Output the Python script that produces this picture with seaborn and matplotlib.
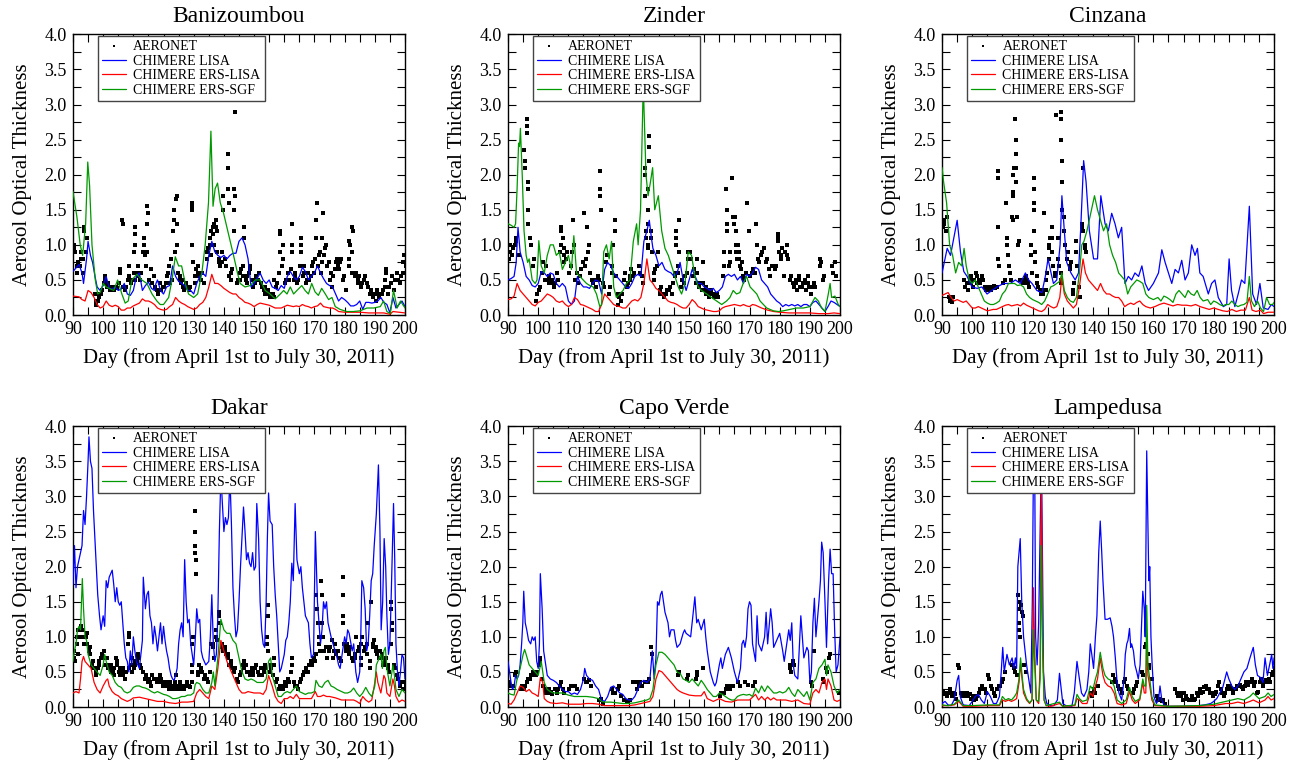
import numpy as np
import matplotlib
matplotlib.use("Agg")
import matplotlib.pyplot as plt
from matplotlib.ticker import MultipleLocator, FormatStrFormatter
import seaborn as sns

sns.set_style("ticks")
plt.rcParams['font.family'] = ['Liberation Serif', 'DejaVu Serif']
plt.rcParams.update({'text.color': 'black', 'axes.labelcolor': 'black',
                     'xtick.color': 'black', 'ytick.color': 'black'})

STATIONS = ["Banizoumbou", "Zinder", "Cinzana", "Dakar", "Capo Verde", "Lampedusa"]
SERIES = ["CHIMERE LISA", "CHIMERE ERS-LISA", "CHIMERE ERS-SGF"]
COLORS = ["#0000ff", "#ff0000", "#009900"]
XLABEL = "Day (from April 1st to July 30, 2011)"
YLABEL = "Aerosol Optical Thickness"

# ---------------- Banizoumbou ----------------
bani_lisa = [(90,0.62),(92,0.72),(93,0.6),(93.5,0.45),(94.5,0.8),(95,1.05),(95.8,0.85),(96.5,0.75),(97.3,0.55),(98,0.4),
    (99,0.35),(100,0.42),(101,0.55),(102,0.38),(103,0.37),(104,0.4),(105,0.35),(106,0.37),(107,0.45),(108,0.3),(109,0.28),
    (110,0.35),(111,0.55),(112,0.6),(113,0.35),(114,0.42),(115,0.47),(116,0.38),(117,0.35),(117.5,0.45),(118,0.5),(119,0.35),
    (120,0.3),(121,0.4),(122,0.42),(123,0.7),(124,0.55),(125,0.48),(126,0.45),(127,0.42),(128,0.35),(129,0.35),(130,0.3),
    (131,0.45),(132,0.55),(133,0.6),(134,0.55),(135,0.85),(136,1.05),(137,0.9),(138,0.85),(139,0.82),(140,0.85),(141,0.8),
    (142,0.85),(143,0.88),(144,0.88),(145,1.05),(146,1.1),(147,1.0),(148,0.8),(149,0.4),(150,0.45),(151,0.52),(152,0.6),
    (153,0.5),(154,0.45),(155,0.5),(156,0.4),(157,0.38),(158,0.35),(159,0.42),(160,0.38),(161,0.55),(162,0.62),(163,0.55),
    (164,0.5),(165,0.55),(166,0.68),(167,0.62),(168,0.5),(169,0.55),(170,0.6),(171,0.7),(172,0.6),(173,0.52),(174,0.45),
    (175,0.42),(176,0.4),(177,0.3),(178,0.2),(179,0.25),(180,0.22),(181,0.18),(182,0.13),(183,0.13),(184,0.15),(185,0.2),
    (186,0.08),(187,0.18),(188,0.18),(189,0.17),(190,0.18),(191,0.2),(192,0.25),(193,0.18),(194,0.15),(195,0.03),(196,0.25),
    (197,0.1),(198,0.15),(199,0.2),(200,0.12)]
bani_ers_lisa = [(90,0.27),(92,0.26),(93,0.22),(94,0.2),(95,0.35),(96,0.32),(97,0.25),(98,0.15),(99,0.1),(100,0.12),(101,0.2),
    (102,0.14),(103,0.12),(104,0.14),(105,0.12),(106,0.07),(107,0.07),(108,0.1),(109,0.1),(110,0.13),(111,0.15),(112,0.17),
    (113,0.23),(114,0.2),(115,0.2),(116,0.18),(117,0.15),(118,0.1),(119,0.08),(120,0.07),(121,0.08),(122,0.12),(123,0.15),
    (124,0.25),(125,0.2),(126,0.17),(127,0.15),(128,0.12),(129,0.1),(130,0.08),(131,0.1),(132,0.15),(133,0.18),(134,0.25),
    (135,0.4),(136,0.58),(137,0.45),(138,0.45),(139,0.42),(140,0.38),(141,0.35),(142,0.32),(143,0.3),(144,0.3),(145,0.25),
    (146,0.22),(147,0.18),(148,0.17),(149,0.15),(150,0.12),(151,0.15),(152,0.17),(153,0.16),(154,0.15),(155,0.14),(156,0.12),
    (157,0.1),(158,0.1),(159,0.1),(160,0.12),(161,0.14),(162,0.13),(163,0.12),(164,0.13),(165,0.12),(166,0.15),(167,0.13),
    (168,0.12),(169,0.1),(170,0.12),(171,0.13),(172,0.17),(173,0.12),(174,0.11),(175,0.1),(176,0.1),(177,0.08),(178,0.05),
    (180,0.04),(182,0.04),(185,0.04),(188,0.03),(190,0.03),(193,0.03),(195,0.01),(196,0.05),(198,0.04),(200,0.03)]
bani_ers_sgf = [(90,1.76),(91.3,1.4),(92.4,1.0),(93.2,0.85),(94.2,1.3),(94.9,2.18),(95.5,1.85),(96.3,1.0),(97.4,0.5),(98.2,0.3),
    (99,0.32),(100,0.45),(101,0.4),(102,0.38),(103.5,0.35),(104.8,0.5),(106.2,0.3),(107.3,0.17),(108.3,0.2),(109.5,0.5),
    (111.2,0.58),(112.8,0.5),(114.5,0.45),(116.2,0.3),(117.8,0.2),(118.9,0.15),(120,0.15),(121.7,0.25),(122.8,0.5),(123.9,0.83),
    (125,0.7),(126,0.7),(127.2,0.45),(128.3,0.3),(130,0.25),(131.3,0.3),(132.7,0.6),(133.8,1.0),(134.9,1.6),(135.7,2.62),
    (136.4,1.55),(137.1,1.8),(137.9,1.88),(138.8,1.6),(139.9,1.45),(141,1.25),(142.1,1.05),(143.2,0.85),(144.5,0.6),(145.4,0.45),
    (147,0.4),(148.7,0.42),(150.4,0.5),(152,0.5),(153.7,0.35),(155.3,0.3),(157,0.23),(158.7,0.3),(159.8,0.35),(160.9,0.3),
    (162,0.4),(163.1,0.3),(164.2,0.35),(165.8,0.42),(166.9,0.35),(168,0.3),(169.1,0.45),(170.2,0.33),(171.3,0.28),(172.4,0.38),
    (173.6,0.3),(174.7,0.22),(175.8,0.25),(176.9,0.12),(178.5,0.08),(180.7,0.05),(182.9,0.05),(185.1,0.06),(187.4,0.1),
    (189.6,0.1),(191.8,0.12),(192.9,0.2),(194,0.05),(195.1,0.02),(196.2,0.35),(197.4,0.1),(198.5,0.2),(200,0.1)]
bani_aeronet = {90:[1.0,0.95,0.9],91:[0.6,0.7,0.75],92:[0.7,0.8,0.9],93:[0.6,0.8,1.2,1.25],94:[0.9,1.1],97:[0.3,0.2,0.15],
    98:[0.2,0.25,0.3],99:[0.3,0.35],100:[0.45,0.5,0.55],101:[0.4,0.45],102:[0.35,0.4],103:[0.4,0.35],104:[0.4,0.38],
    105:[0.45,0.6,0.65],106:[1.35,1.3,0.4],107:[0.35,0.4],108:[0.5,0.7,0.55],109:[0.45,0.5],110:[0.6,0.9,1.0,1.25,1.15,0.5],
    111:[0.6,0.7,0.55],112:[0.5,0.6],113:[0.9,1.1,1.0,0.85],114:[0.7,0.9,1.3,1.55,1.45],115:[0.5,0.65],116:[0.45,0.55],
    117:[0.4,0.35],118:[0.3,0.45],119:[0.35,0.4],120:[0.4,0.45],121:[0.55,0.6,0.7],122:[0.45,0.8,0.5],123:[1.2,1.35,1.5,0.9],
    124:[1.65,1.7,1.3,1.0,0.6],125:[0.5,0.55,0.45],126:[0.4,0.5,0.35],127:[0.45,0.4],128:[0.35,0.4],129:[1.0,1.5,1.6,1.55,0.75],
    130:[0.45,0.55,0.65],131:[0.6,0.7,0.55],132:[0.5,0.6],133:[0.45],134:[0.8,0.9,0.95],135:[1.0,1.1,1.2,0.85],
    136:[1.15,1.25,1.3,1.0],137:[1.35,1.25,1.2,0.9],138:[0.8,0.75,0.7],139:[0.75,0.9,1.5,1.7],140:[0.8,0.7],
    141:[2.1,2.3,1.8,1.6,0.55],142:[0.6,0.5,0.65],143:[1.2,1.5,1.8,2.9,1.7],144:[0.45,0.5],145:[0.5,0.6,0.65],
    146:[0.55,0.7,1.1,1.25],147:[0.5,0.45,0.55],148:[0.6,0.65,0.7],149:[0.5,0.4],150:[0.45,0.5,0.55],151:[0.5,0.6],
    152:[0.45,0.4],153:[0.35,0.4,0.3],154:[0.3,0.35],155:[0.25,0.3],156:[0.3,0.25,0.5],157:[0.4,0.45],158:[0.6,0.9,1.2,1.15],
    159:[0.7,0.8,1.0],160:[0.45,0.5],161:[0.6,0.5],162:[0.65,0.9,1.3,1.0],163:[0.5,0.6,0.55],164:[0.45,0.5],
    165:[0.7,0.9,1.1,1.0],166:[0.55,0.6,0.7],167:[0.45,0.5,0.6],168:[0.5,0.55],169:[0.7,0.75,0.6],170:[0.8,1.1,1.35,1.6],
    171:[0.7,0.85,0.9],172:[0.6,0.75,1.1,1.45],173:[0.85,0.95,1.0],174:[0.7,0.75],175:[0.5,0.6,0.4],176:[0.55,0.65],
    177:[0.75,0.8,0.7],178:[0.65,0.75,0.8],179:[0.5,0.55],180:[0.35],181:[0.7,0.8,1.05,1.0],182:[0.6,0.9,1.25,1.2],
    183:[0.55,0.6],184:[0.45,0.5,0.55],185:[0.4,0.45],186:[0.5,0.55],187:[0.45,0.4],188:[0.3,0.35],189:[0.25,0.3],
    190:[0.2,0.3,0.35],191:[0.25,0.3],192:[0.3,0.35],193:[0.4,0.5,0.6,0.65],194:[0.3,0.4],195:[0.45,0.55],196:[0.35,0.5],
    197:[0.6,0.5],198:[0.45,0.55],199:[0.6,0.75,0.85],200:[0.7,0.8]}

# ---------------- Zinder ----------------
zind_lisa = [(90,0.5),(91,0.52),(92,0.55),(92.7,0.75),(93.3,1.25),(94,0.9),(95,0.75),(96,0.55),(97,0.5),(98,0.42),(99,0.4),
    (100,0.45),(101,0.62),(102,0.6),(103,0.55),(104,0.6),(105,0.58),(106,0.45),(107,0.4),(108,0.45),(109,0.4),(110,0.2),
    (111,0.15),(112,0.2),(113,0.55),(114,0.45),(115,0.4),(116,0.4),(117,0.38),(118,0.45),(119,0.5),(120,0.48),(121,0.3),
    (122,0.65),(123,0.75),(124,0.7),(125,0.6),(126,0.55),(127,0.5),(128,0.45),(129,0.4),(130,0.38),(131,0.45),(132,0.55),
    (133,0.58),(134,0.55),(135,1.05),(136,1.2),(136.8,1.35),(137.5,1.1),(138,0.95),(139,0.85),(140,0.7),(141,0.75),(142,0.65),
    (143,0.62),(144,0.6),(145,0.55),(146,0.6),(147,0.75),(148,0.5),(149,0.35),(150,0.5),(151,0.65),(152,0.55),(153,0.45),
    (154,0.45),(155,0.4),(156,0.38),(157,0.35),(158,0.38),(159,0.32),(160,0.35),(161,0.4),(162,0.55),(163,0.58),(164,0.55),
    (165,0.58),(166,0.5),(167,0.55),(168,0.45),(169,0.58),(170,0.55),(171,0.6),(172,0.68),(173,0.65),(174,0.5),(175,0.45),
    (176,0.4),(177,0.3),(178,0.25),(179,0.2),(180,0.17),(181,0.12),(182,0.15),(183,0.13),(184,0.15),(185,0.13),(186,0.15),
    (187,0.12),(188,0.15),(189,0.15),(190,0.12),(191,0.18),(192,0.2),(193,0.15),(194,0.1),(195,0.05),(196,0.12),(197,0.2),
    (198,0.18),(199,0.15),(200,0.12)]
zind_ers_lisa = [(90,0.22),(91,0.23),(92,0.27),(93,0.45),(94,0.35),(95,0.3),(96,0.25),(97,0.2),(98,0.15),(99,0.13),(100,0.18),
    (101,0.2),(102,0.25),(103,0.3),(104,0.28),(105,0.25),(106,0.2),(107,0.18),(108,0.2),(109,0.15),(110,0.12),(111,0.15),
    (112,0.25),(113,0.22),(114,0.15),(115,0.14),(116,0.12),(117,0.1),(118,0.08),(119,0.05),(120,0.05),(121,0.15),(122,0.3),
    (123,0.25),(124,0.2),(125,0.15),(126,0.13),(127,0.12),(128,0.1),(129,0.1),(130,0.15),(131,0.2),(132,0.22),(133,0.2),
    (134,0.25),(135,0.45),(136,0.8),(137,0.5),(138,0.45),(139,0.38),(140,0.35),(141,0.3),(142,0.25),(143,0.2),(144,0.18),
    (145,0.17),(146,0.15),(147,0.12),(148,0.1),(149,0.1),(150,0.15),(151,0.22),(152,0.18),(153,0.12),(154,0.1),(155,0.08),
    (156,0.07),(157,0.06),(158,0.05),(159,0.05),(160,0.06),(161,0.1),(162,0.12),(163,0.13),(164,0.14),(165,0.15),(166,0.14),
    (167,0.13),(168,0.15),(169,0.13),(170,0.12),(171,0.15),(172,0.14),(173,0.12),(174,0.1),(176,0.07),(178,0.05),(180,0.04),
    (183,0.03),(186,0.03),(190,0.03),(193,0.02),(196,0.02),(198,0.03),(200,0.02)]
zind_ers_sgf = [(90,1.3),(91,1.28),(92,1.25),(92.5,1.3),(93,1.8),(93.5,2.45),(93.8,2.4),(94.1,2.66),(94.7,2.0),(95.3,1.2),
    (96,0.85),(96.5,0.75),(97,0.8),(97.5,0.65),(98,0.5),(99,0.45),(99.6,0.5),(100.2,1.06),(101,0.7),(102,0.6),(103,0.85),
    (104,1.0),(105,1.0),(106,0.85),(107,0.9),(108,0.65),(109,0.75),(110,0.85),(111,0.65),(111.8,1.13),(112.7,0.6),(113.8,0.55),
    (114.9,0.5),(116,0.45),(117.1,0.42),(118.2,0.4),(119.3,0.3),(120.4,0.12),(121,0.15),(121.7,0.9),(122.6,1.0),(123.5,0.8),
    (124.3,1.05),(125,0.4),(125.9,0.25),(127,0.3),(128.1,0.35),(129.2,0.45),(130.4,0.5),(131.5,1.05),(132.6,1.3),(133.1,1.0),
    (133.9,1.5),(134.8,3.3),(135.7,2.0),(136.4,1.7),(137.2,1.9),(137.9,2.1),(138.6,1.5),(139.8,1.7),(140.9,1.2),(142,0.95),
    (143.1,0.85),(144.2,0.7),(145.3,0.55),(146.4,0.4),(147.5,0.3),(148.6,0.45),(149.7,0.9),(150.8,0.85),(151.9,0.55),
    (153,0.4),(154.1,0.35),(155.8,0.3),(157.4,0.25),(159.1,0.2),(160.8,0.15),(162.4,0.2),(163.5,0.25),(164.6,0.35),
    (165.7,0.3),(166.8,0.32),(167.9,0.45),(169,0.55),(170.2,0.4),(171.3,0.35),(172.4,0.3),(173.5,0.2),(174.6,0.15),
    (175.7,0.1),(176.8,0.08),(177.9,0.06),(179.6,0.05),(181.2,0.06),(183.4,0.08),(185.6,0.1),(187.8,0.1),(190,0.12),
    (191.7,0.25),(192.8,0.2),(193.9,0.1),(195,0.05),(196.1,0.3),(196.7,0.45),(197.2,0.25),(198.3,0.27),(199.4,0.15),(200,0.12)]
zind_aeronet = {90:[0.8,0.9,1.0],91:[0.85,0.95],92:[1.0,1.1,1.05],93:[0.85],95:[2.35,2.2,2.1],96:[2.8,2.7,2.6,1.9,1.8,1.5,1.3],
    97:[1.1,1.0],98:[0.7,0.8],99:[0.2,0.3],100:[0.35,0.4],101:[0.6,0.75],102:[0.5,0.7],103:[0.5,0.55,0.45],104:[0.45,0.5],
    105:[0.4,0.45],106:[0.6,0.5],107:[0.9,1.0,1.2,1.25],108:[1.1,0.95,0.85,0.75],109:[0.8,0.9],110:[0.6,0.7],
    111:[0.9,1.35,1.0],112:[0.5,0.6],113:[0.45,0.55],114:[0.65,0.75],115:[1.45,0.7,0.8],116:[1.25,0.9,1.0],117:[0.6,0.5],
    118:[0.45,0.5],119:[0.4,0.55],120:[0.5,2.05,1.8,1.7,1.5],121:[0.45,0.4],122:[0.75,0.85],123:[0.3,0.4],
    124:[0.6,0.7,1.0],125:[1.35,1.2,0.55],126:[0.3,0.15,0.25],127:[0.2,0.3],128:[0.5,0.6],129:[0.4,0.45],130:[0.5,0.55,0.65],
    131:[0.55,0.6],133:[0.7,0.6],134:[0.55,0.45],135:[2.1,2.0,1.7,1.2,1.1],136:[1.8,1.5,1.3,1.0,0.95,2.55,2.4,2.2],
    137:[1.2,1.1,0.9],138:[0.6,0.5,0.65],139:[0.7,0.9],140:[0.35,0.3,0.4],141:[0.3,0.25],142:[0.3,0.35],143:[0.35,0.4],
    144:[0.3,0.45],145:[0.55,0.6,1.0,1.1,1.2],146:[0.6,0.7,1.35,0.9],147:[0.4,0.5],148:[0.45,0.55],149:[0.6,0.9,0.8],
    150:[0.9,0.8],151:[0.55,0.65],152:[0.45,0.6,0.8],153:[0.4,0.45],154:[0.35,0.45,0.75],155:[0.35,0.4,0.3],
    156:[0.3,0.25,0.35],157:[0.35,0.3],158:[0.25,0.3],159:[0.3,0.25],161:[0.55,0.7,0.9],162:[1.8,1.5,1.3,1.2],
    163:[0.7,0.75,0.9],164:[1.95,1.4,1.3],165:[1.4,1.2,1.0,0.9,0.8],166:[1.0,0.9,0.8,0.7],167:[0.65,0.75,0.55],
    168:[0.5,0.6],169:[1.6,1.2],170:[0.55,0.6],171:[0.65,0.6],172:[1.3,1.0,0.8],173:[0.75,0.85],174:[0.9,0.95],
    175:[0.75,0.8],176:[0.65,0.55],177:[0.7],178:[0.65,0.7],179:[1.1,1.05,1.15,0.9],180:[0.85,0.8,0.95],181:[0.55,0.9],
    182:[1.0,0.85,0.8],183:[0.5,0.55],184:[0.45,0.4],185:[0.5,0.45,0.35],186:[0.55,0.5,0.4],187:[0.4,0.45],
    188:[0.5,0.45,0.35],189:[0.55,0.45,0.4],190:[0.3,0.4],191:[0.45,0.4],193:[0.8,0.7,0.75],194:[0.5,0.55],
    197:[0.7,0.6],198:[0.75,0.55]}

# ---------------- Cinzana ----------------
cinz_lisa = [(90,0.6),(91.7,0.95),(92.8,0.85),(95,1.35),(96.1,0.9),(97.2,0.62),(98.3,0.55),(99.9,0.4),(101.6,0.38),(103.2,0.4),
    (104.9,0.3),(106.5,0.35),(108.2,0.4),(110.4,0.45),(112.6,0.45),(114.3,0.5),(115.9,0.45),(117.6,0.6),(118.7,0.5),
    (119.8,0.45),(121.4,0.35),(123.1,0.32),(124.2,0.55),(125.1,0.8),(126.1,0.6),(126.9,0.45),(128,0.5),(129.1,1.0),
    (129.7,1.7),(130.5,1.2),(131.3,0.75),(132.7,0.6),(134.1,0.5),(135.2,0.6),(136,1.3),(136.9,2.2),(137.7,1.9),(138.8,1.2),
    (140.2,0.8),(141.5,0.8),(142.6,1.7),(144,1.3),(145.1,1.2),(146.2,1.45),(147.3,1.3),(148.4,1.1),(149.5,1.25),(150.6,0.45),
    (151.7,0.55),(152.8,0.5),(153.9,0.6),(155.1,0.55),(156.2,0.7),(157.3,0.45),(158.4,0.35),(160,0.45),(161.7,0.6),
    (162.8,0.93),(163.9,0.75),(165,0.6),(166.1,0.45),(167.2,0.65),(168.3,0.6),(169.4,0.78),(170.5,0.5),(171.6,0.6),
    (172.7,1.0),(173.8,0.85),(174.6,0.95),(175.4,0.6),(176.5,0.55),(178.2,0.3),(179.3,0.45),(180.4,0.5),(181.5,0.25),
    (183.2,0.12),(184.3,0.15),(185.1,0.8),(185.9,0.35),(187,0.12),(188.1,0.3),(189.2,0.5),(190.3,0.45),(191.8,1.55),
    (192.9,0.3),(194.2,0.15),(195.3,0.45),(196.4,0.1),(198,0.08),(199.1,0.15),(200,0.12)]
cinz_ers_lisa = [(90,0.28),(91,0.3),(92,0.32),(93,0.25),(94,0.2),(95,0.22),(96,0.2),(97,0.18),(98,0.2),(99,0.15),(100,0.1),
    (101,0.1),(102,0.12),(103,0.1),(104,0.08),(105,0.06),(106,0.07),(107,0.08),(108,0.08),(109,0.1),(110,0.12),(111,0.14),
    (112,0.15),(113,0.13),(114,0.14),(115,0.15),(116,0.13),(117,0.17),(118,0.14),(119,0.12),(120,0.1),(121,0.08),(122,0.06),
    (123,0.05),(124,0.08),(125,0.15),(126,0.12),(127,0.1),(128,0.12),(129,0.25),(129.7,0.55),(130.5,0.3),(131.5,0.2),
    (132.5,0.15),(133.5,0.1),(134.5,0.15),(135.5,0.4),(136.7,0.8),(137.5,0.6),(138.5,0.5),(139.5,0.45),(140.5,0.4),
    (141.5,0.35),(142.5,0.45),(143.5,0.35),(144.5,0.3),(145.5,0.3),(146.5,0.27),(147.5,0.25),(148.5,0.25),(149.5,0.2),
    (150.5,0.12),(151.5,0.15),(152.5,0.17),(153.5,0.15),(154.5,0.18),(155.5,0.2),(156.5,0.15),(157.5,0.12),(159,0.1),
    (160.5,0.12),(162,0.15),(163.5,0.17),(165,0.15),(166.5,0.13),(168,0.15),(169.5,0.14),(171,0.14),(172.5,0.13),(174,0.15),
    (175.5,0.12),(177,0.1),(178.5,0.08),(180,0.1),(181.5,0.08),(183,0.06),(184.5,0.05),(186,0.08),(187.5,0.05),(189,0.07),
    (190.5,0.07),(191.8,0.25),(192.7,0.07),(194,0.05),(195.5,0.07),(196.5,0.02),(198,0.04),(200,0.04)]
cinz_ers_sgf = [(90,2.1),(90.5,1.9),(91.5,1.6),(92.5,1.0),(93.5,0.85),(94.5,0.6),(95.5,0.75),(96.5,0.7),(97.3,0.95),(98,0.7),
    (99,0.5),(100,0.45),(101,0.5),(102,0.4),(103,0.3),(104,0.2),(105,0.17),(106,0.15),(107,0.15),(108,0.17),(109,0.2),
    (110,0.3),(111,0.35),(112,0.45),(113,0.45),(114,0.45),(115,0.42),(116,0.43),(117,0.4),(118,0.3),(119,0.25),(120,0.22),
    (121,0.2),(122,0.18),(123,0.15),(124,0.2),(125,0.3),(126,0.4),(127,0.42),(128,0.45),(129,0.48),(129.7,0.6),(130.5,0.35),
    (131.5,0.25),(132.5,0.2),(133.5,0.18),(134.5,0.25),(135.5,0.6),(136.3,1.0),(137,1.05),(138,1.2),(139,1.4),(140,1.6),
    (140.5,1.7),(141.5,1.5),(142.5,1.35),(143.5,1.2),(144.5,1.3),(145.5,1.0),(146.5,0.85),(147.5,0.75),(148.5,0.6),
    (149.5,0.55),(150.5,0.5),(151.5,0.3),(152.5,0.4),(153.5,0.45),(154.5,0.5),(155.5,0.48),(156.5,0.45),(157.5,0.3),
    (158.5,0.25),(160,0.22),(161.5,0.25),(162.5,0.2),(163.5,0.27),(164.5,0.25),(165.5,0.22),(166.5,0.18),(167.5,0.3),
    (168.5,0.35),(169.5,0.3),(170.5,0.25),(171.5,0.35),(172.5,0.3),(173.5,0.28),(174.5,0.35),(175.5,0.25),(176.5,0.2),
    (178,0.22),(179,0.15),(180,0.2),(181,0.18),(182,0.15),(183,0.13),(184,0.15),(185,0.15),(186,0.2),(187,0.15),(188,0.12),
    (189,0.14),(190,0.15),(191,0.18),(191.8,0.55),(192.5,0.2),(193.5,0.12),(194.5,0.2),(195.5,0.1),(196.5,0.05),
    (197.5,0.25),(198.5,0.15),(199.5,0.15),(200,0.18)]
cinz_aeronet = {90:[1.25,1.35,1.3],91:[1.2,1.4],92:[0.25,0.2],93:[0.18,0.25],97:[0.5,0.4],98:[0.45,0.35],99:[0.5,0.45,0.55],
    100:[0.4,0.5],101:[0.6,0.55,0.45],102:[0.5,0.45],103:[0.55,0.5],104:[0.4,0.35],105:[0.35,0.4],106:[0.35,0.4],
    107:[0.42,0.38],108:[0.4,2.05,1.95,1.25,0.8,0.7],110:[0.45,0.5],111:[1.6,1.1,1.0,0.85],112:[0.7,0.6,0.5],
    113:[1.4,1.35,1.7,1.75,2.0,2.1],114:[2.8,2.5,2.3,2.1,1.9,1.4],115:[1.0,1.05,0.5],116:[0.5,0.45],117:[0.45,0.5,0.55],
    118:[0.5,0.45,0.4],119:[0.85,1.0,0.6],120:[1.95,1.8,1.6,1.5,1.2,0.9,0.75],121:[0.45,0.55,0.4],122:[0.35,0.3],
    123:[0.35,0.3,1.45],124:[0.35,0.5,0.6],125:[0.8,0.95,1.0,1.1],126:[1.25,1.1,0.9,0.7],127:[0.6,0.55,2.85],
    128:[1.1,0.8,0.7],129:[0.5,0.6,0.45,3.1,2.9,2.8,2.5,2.2,1.9,1.5],130:[1.4,1.2,1.0],131:[0.8,0.9],132:[0.7,0.65,0.75],
    133:[0.3,0.35,0.45],134:[1.05,0.9,0.7],135:[0.4,0.25],136:[1.3,1.25,1.2,2.1],137:[1.0,0.95,0.9]}

# ---------------- Dakar ----------------
dak_lisa = [(90,1.75),(90.5,2.3),(91,1.7),(91.5,2.0),(92,2.1),(93,2.3),(93.5,2.8),(94,2.6),(94.5,3.0),(95,3.5),(95.3,3.85),
    (95.8,3.5),(96.3,3.4),(96.8,2.8),(97.5,2.2),(98.2,1.6),(98.8,1.3),(99.3,1.1),(100,1.3),(100.5,1.15),(101,1.8),(101.5,1.7),
    (102,1.85),(102.5,1.9),(103,1.95),(103.5,1.75),(104,1.5),(104.5,1.7),(105,1.5),(105.5,1.45),(106,1.5),(106.5,1.2),
    (107,0.9),(107.5,0.7),(108,0.65),(108.5,0.5),(109,0.8),(109.5,0.6),(110,1.0),(110.5,0.8),(111,0.65),(112,0.55),
    (112.5,0.75),(113,0.95),(113.3,1.85),(114,1.4),(114.5,1.6),(115,1.65),(115.5,1.3),(116,1.2),(116.5,0.9),(117,1.15),
    (117.5,1.0),(118,0.8),(118.5,1.0),(119,1.2),(119.5,0.9),(120,1.15),(120.5,0.95),(121,0.8),(121.5,0.7),(122,0.55),
    (122.5,0.45),(123,0.4),(123.5,0.38),(124,0.45),(124.5,0.55),(125,0.9),(125.5,1.1),(126,1.2),(126.5,1.0),(127,2.1),
    (127.5,1.5),(128,1.2),(128.5,1.25),(129,0.9),(129.5,0.75),(130,0.6),(130.5,0.95),(131,1.4),(131.5,1.2),(132,1.25),
    (132.5,0.8),(133,0.7),(134,0.6),(135,0.65),(135.5,1.0),(136,1.6),(136.5,0.9),(137,0.65),(137.5,0.75),(138,1.3),
    (138.5,2.5),(139,3.3),(140,2.5),(140.5,2.7),(141,2.6),(141.5,2.7),(142,3.3),(142.5,2.6),(143,1.7),(143.5,1.3),(144,1.0),
    (144.5,1.1),(145,1.5),(145.5,2.0),(146.5,2.85),(147,2.5),(147.5,2.1),(148,2.2),(148.5,2.05),(149,2.0),(149.5,2.2),
    (150,1.95),(150.5,2.0),(150.9,2.9),(151.5,2.4),(152,1.5),(152.5,1.1),(153,0.9),(153.5,0.85),(154,1.5),(154.4,2.4),
    (154.8,3.05),(155.3,2.65),(156,2.6),(156.5,2.0),(157,1.6),(157.5,1.3),(158,0.9),(158.5,0.5),(159,0.55),(160,0.75),
    (160.5,0.95),(161,1.0),(161.5,1.2),(162,1.5),(162.5,2.05),(163,1.8),(163.6,2.9),(164.2,2.1),(165,1.9),(165.5,2.0),
    (166,1.7),(166.5,1.5),(167,1.3),(168,1.2),(168.5,0.9),(169,0.7),(169.7,0.75),(170.3,2.5),(171,1.5),(171.5,1.2),
    (172,0.9),(172.5,1.1),(173,1.5),(173.5,1.4),(174,1.5),(174.5,1.2),(175.5,1.0),(176.5,0.85),(177.5,0.7),(178,0.6),
    (178.5,0.55),(179.5,0.85),(180,1.0),(180.5,0.9),(181,1.1),(181.5,1.05),(182.5,0.8),(183,0.9),(183.7,0.5),(184.3,0.35),
    (185,0.5),(185.3,0.9),(185.7,1.8),(186.3,1.7),(186.8,1.4),(187.3,0.8),(187.8,0.9),(188.3,1.3),(188.8,1.8),(189.3,1.9),
    (189.8,2.3),(190.5,2.75),(191.2,3.45),(191.7,2.5),(192.1,1.1),(192.6,1.5),(193.1,2.4),(193.6,2.0),(194,1.3),
    (194.5,0.75),(195,0.9),(195.5,1.7),(196.2,2.9),(196.6,2.1),(197,0.9),(197.5,0.5),(198,0.3),(198.5,0.5),(199,0.75),
    (199.5,0.7),(200,0.4)]
dak_ers_lisa = [(90,0.2),(91,0.22),(92,0.2),(92.5,0.4),(93,0.65),(93.5,0.72),(94,0.65),(95,0.6),(96,0.55),(97,0.35),(98,0.25),
    (99,0.2),(100,0.3),(101,0.38),(101.5,0.4),(102,0.3),(103,0.22),(104,0.18),(105,0.16),(106,0.12),(107,0.1),(108,0.08),
    (109,0.1),(110,0.13),(112,0.14),(114,0.12),(116,0.1),(118,0.08),(120,0.08),(122,0.06),(124,0.05),(126,0.07),(128,0.07),
    (130,0.08),(131,0.2),(132,0.25),(133,0.2),(134,0.15),(135,0.12),(136,0.3),(137,0.25),(138,0.55),(139,0.95),(140,0.8),
    (141,0.65),(142,0.55),(143,0.45),(144,0.35),(145,0.25),(146,0.2),(147,0.2),(148,0.22),(150,0.2),(152,0.2),(153,0.18),
    (154,0.25),(154.8,0.45),(156,0.3),(157,0.15),(158,0.08),(159,0.05),(160,0.12),(161,0.12),(162,0.15),(163,0.12),
    (164,0.18),(165,0.12),(167,0.12),(169,0.12),(170.3,0.22),(171,0.15),(172,0.15),(173,0.17),(174,0.15),(175,0.15),
    (177,0.13),(179,0.1),(181,0.1),(183,0.1),(184,0.08),(185,0.05),(186,0.15),(187,0.1),(188,0.07),(189,0.1),(190,0.35),
    (190.5,0.5),(191,0.35),(192,0.2),(193,0.45),(193.5,0.4),(194,0.2),(195,0.15),(196,0.4),(196.5,0.3),(197,0.15),
    (198,0.07),(199,0.1),(200,0.08)]
dak_ers_sgf = [(90,0.65),(90.5,0.8),(91,0.9),(91.5,1.1),(92,1.15),(92.5,1.1),(93.1,1.83),(93.5,1.4),(94,1.0),(94.5,0.95),
    (95,0.75),(96,0.6),(97,0.55),(98,0.5),(99,0.45),(100,0.6),(100.5,0.75),(101,0.65),(102,0.5),(103,0.45),(104,0.35),
    (105,0.3),(106,0.28),(107,0.22),(108,0.2),(109,0.22),(110,0.28),(111,0.3),(112,0.3),(113,0.28),(114,0.27),(115,0.25),
    (116,0.22),(117,0.2),(118,0.22),(119,0.2),(120,0.18),(121,0.17),(122,0.15),(123,0.12),(124,0.12),(125,0.13),(126,0.15),
    (127,0.15),(128,0.17),(129,0.17),(130,0.2),(130.5,0.32),(131,0.35),(132,0.33),(133,0.25),(134,0.2),(135,0.2),(136,0.35),
    (136.5,0.5),(137,0.3),(138,0.7),(139,1.25),(140,1.1),(141,1.05),(142,1.05),(143,0.95),(144,0.9),(145,0.7),(146,0.5),
    (147,0.4),(148,0.38),(149,0.4),(150,0.38),(151,0.35),(152,0.35),(153,0.35),(154,0.4),(154.8,0.65),(155.5,0.7),
    (156,0.45),(157,0.3),(158,0.15),(159,0.15),(160,0.2),(161,0.22),(162,0.2),(163,0.25),(164,0.3),(165,0.22),(166,0.2),
    (167,0.18),(168,0.2),(169,0.2),(170,0.22),(170.5,0.38),(171.5,0.3),(172.5,0.28),(173.5,0.35),(174.5,0.38),(175.5,0.3),
    (176.5,0.28),(177.5,0.25),(179,0.22),(180,0.2),(181,0.2),(182,0.22),(183,0.27),(184,0.2),(185,0.15),(186,0.2),
    (187,0.28),(188,0.2),(189,0.15),(190,0.3),(190.5,0.6),(191,0.65),(192,0.75),(192.5,0.55),(193,0.8),(193.5,0.85),
    (194,0.55),(195,0.3),(196,0.6),(196.5,0.45),(197,0.25),(198,0.15),(199,0.25),(200,0.2)]
dak_aeronet = {90:[0.7,0.8,0.65],91:[0.9,1.0,1.1,0.75],92:[1.0,1.1,1.15],93:[1.1,1.0,0.9],94:[1.0,0.9,1.05],95:[0.8,0.75,0.85],
    96:[0.6,0.65,0.55],97:[0.55,0.5,0.45],98:[0.55,0.6,0.65],99:[0.7,0.75],100:[0.8,0.7,0.6],101:[0.7,0.6,0.55],
    102:[0.55,0.5,0.6],103:[0.5,0.45,0.55],104:[0.7,0.6,0.65],105:[0.5,0.45,0.55],106:[0.5,0.55,0.45],107:[0.4,0.5],
    108:[0.9,1.0,1.05,0.55],109:[0.6,0.5,0.7],110:[0.55,0.6,0.65],111:[0.65,0.75,0.7],112:[0.6,0.55],113:[0.5,0.4],
    114:[0.45,0.35],115:[0.4,0.35,0.3],116:[0.45,0.4],117:[0.4,0.35],118:[0.35,0.4,0.45],119:[0.4,0.35,0.3],120:[0.3,0.35],
    121:[0.3,0.25],122:[0.35,0.3,0.25],123:[0.3,0.25,0.35],124:[0.45,0.3,0.25],125:[0.3,0.35,0.25],126:[0.3,0.25],
    127:[0.3,0.35],128:[0.3,0.28],129:[0.35,0.5,0.6,0.9,1.0],130:[2.8,2.5,2.3,2.2,2.1,1.9],131:[0.5,0.45,0.6],
    132:[0.55,0.5],133:[0.4,0.45],134:[0.4,0.35],135:[0.5,0.9],136:[0.9,0.85,0.7],137:[1.0,1.1,0.95],138:[1.35,1.3,1.2],
    139:[0.9,0.85,0.8],140:[0.85,0.8,0.75],141:[0.7,0.75,0.6],142:[0.65,0.6,0.55],143:[0.5,0.55],144:[0.4,0.35],
    145:[0.45,0.5],146:[0.6,0.55,0.65],147:[0.6,0.5],148:[0.5,0.45],149:[0.55,0.5,0.45],150:[0.55,0.6],151:[0.5,0.45],
    152:[0.55,0.45],153:[0.5,0.55,0.6],154:[0.9,1.0,1.3,1.45,0.8],155:[0.5,0.6,0.55],156:[0.45,0.7,0.6],157:[0.35,0.4],
    158:[0.25,0.3],159:[0.3,0.25],160:[0.35,0.3],161:[0.4,0.35],162:[0.5,0.6,0.7],163:[0.35,0.3],164:[0.3,0.25],
    165:[0.35,0.4],166:[0.45,0.5],167:[0.55,0.5],168:[0.6,0.65],169:[0.6,0.7],170:[0.65,0.75,1.6,1.4],171:[1.2,1.0,0.9,0.8],
    172:[1.8,1.6,1.2,1.0],173:[0.8,0.85],174:[0.7,0.8],175:[0.85,0.95],176:[0.7,0.8,0.9],177:[0.75,0.8],178:[0.7,0.65],
    179:[1.85,1.6,1.3,1.2,0.9],180:[0.8,0.85,0.9],181:[0.75,0.8,0.85],182:[0.7,0.65],183:[0.7,0.75,1.0],184:[0.8,0.85],
    185:[0.6,0.7,0.9,1.0],186:[0.8,0.85],187:[0.75,0.9,1.2],188:[0.55,0.65,1.5],189:[0.85,0.9,0.95],190:[0.85,0.8,0.75],
    191:[0.7,0.8],192:[0.75,0.7,0.6],193:[0.6,0.65,0.7],194:[0.55,0.6,0.5],195:[0.9,1.5,1.4,1.2,1.1],196:[0.6,0.55],
    197:[0.45,0.4],198:[0.3,0.35],199:[0.25,0.35],200:[0.3,0.4]}

# ---------------- Capo Verde ----------------
capo_lisa = [(90,0.65),(90.5,0.5),(91,0.35),(91.5,0.25),(92,0.3),(92.5,0.45),(93,0.4),(93.5,0.45),(94,0.6),(94.5,0.9),
    (94.9,1.2),(95.2,1.65),(95.7,1.2),(96.2,1.1),(96.8,0.95),(97.5,0.9),(98,1.0),(98.5,0.95),(99,1.0),(99.5,0.65),
    (100,0.55),(100.4,0.9),(100.7,1.9),(101.3,1.4),(101.8,0.8),(102.3,0.65),(103,0.45),(104,0.4),(105,0.38),(106,0.35),
    (107,0.3),(108,0.25),(109,0.22),(110,0.22),(111,0.18),(112,0.2),(113,0.18),(114,0.25),(115,0.4),(115.4,0.55),
    (116,0.45),(117,0.4),(118,0.38),(119,0.3),(120,0.25),(121,0.1),(122,0.08),(123,0.15),(124,0.28),(125,0.3),(126,0.25),
    (127,0.2),(128,0.18),(129,0.12),(130,0.1),(131,0.1),(132,0.15),(133,0.25),(134,0.35),(135,0.38),(136,0.35),(137,0.4),
    (137.8,0.8),(138.4,0.4),(139,0.7),(139.5,1.5),(140,1.45),(140.5,1.6),(141,1.65),(141.5,1.5),(142,1.35),(143,1.2),
    (143.5,1.0),(144,1.1),(145,1.1),(145.5,0.95),(146,0.85),(147,0.9),(148,1.05),(148.5,1.1),(149,1.05),(150.5,1.0),
    (151.9,1.57),(152.5,1.2),(153,1.25),(154,1.1),(155,1.25),(155.5,1.0),(156,0.8),(157,0.5),(158,0.35),(158.5,0.3),
    (159,0.35),(160,0.6),(160.5,0.7),(161,0.55),(162,0.75),(163,0.85),(164,0.7),(165,0.5),(166,0.35),(167,0.55),
    (167.5,0.9),(168,0.95),(168.5,0.85),(169,1.0),(169.5,1.4),(170,1.5),(170.5,1.45),(171,0.9),(172,0.65),(172.5,1.3),
    (173,0.9),(174,0.8),(175,1.0),(175.5,1.35),(176,0.9),(177,1.4),(177.5,1.2),(178,0.85),(179,0.95),(180,1.05),(181,0.8),
    (181.5,0.65),(182,0.8),(183,1.1),(183.5,0.95),(184,1.2),(184.5,0.6),(185,0.45),(186,0.4),(187,1.3),(187.5,1.0),(188,0.7),
    (189,0.85),(189.5,0.8),(190,0.35),(190.5,0.5),(191,1.2),(191.5,1.55),(192,1.0),(193,1.5),(193.5,1.8),(193.9,2.35),
    (194.4,2.2),(195,1.5),(195.5,0.85),(196.2,1.8),(196.7,2.25),(197.2,1.9),(197.7,1.9),(198.2,1.1),(198.7,0.5),(199.3,0.6),
    (200,1.0)]
capo_ers_lisa = [(90,0.05),(91,0.04),(92,0.1),(93,0.2),(94,0.3),(95,0.28),(96,0.22),(97,0.25),(98,0.2),(99,0.18),(100,0.15),
    (100.7,0.42),(101.5,0.35),(102,0.12),(103,0.08),(104,0.06),(106,0.05),(108,0.06),(110,0.04),(112,0.04),(114,0.04),
    (116,0.05),(118,0.05),(120,0.04),(122,0.02),(124,0.02),(126,0.02),(128,0.02),(130,0.02),(132,0.03),(134,0.05),(136,0.07),
    (137,0.08),(138,0.15),(139,0.4),(140,0.52),(141,0.5),(142,0.45),(143,0.4),(144,0.35),(145,0.3),(146,0.25),(147,0.22),
    (148,0.2),(150,0.17),(152,0.16),(154,0.16),(155,0.22),(156,0.12),(157,0.1),(158,0.08),(159,0.1),(160,0.12),(161,0.1),
    (162,0.08),(164,0.07),(166,0.1),(168,0.1),(170,0.1),(172,0.18),(173,0.1),(174,0.15),(175,0.1),(176,0.14),(177,0.1),
    (178,0.13),(179,0.1),(180,0.1),(182,0.1),(184,0.08),(186,0.1),(188,0.05),(190,0.04),(191,0.2),(192,0.25),(193,0.2),
    (194,0.35),(195,0.4),(195.5,0.25),(196,0.4),(197,0.3),(198,0.1),(199,0.08),(200,0.1)]
capo_ers_sgf = [(90,0.2),(91,0.18),(92,0.17),(93,0.4),(94,0.55),(95,0.75),(95.5,0.82),(96,0.75),(97,0.6),(98,0.55),(99,0.5),
    (100,0.45),(100.5,0.55),(101,0.65),(102,0.35),(103,0.25),(104,0.22),(105,0.2),(106,0.2),(108,0.2),(110,0.17),(112,0.15),
    (114,0.15),(116,0.15),(118,0.14),(120,0.12),(121,0.08),(122,0.07),(124,0.07),(126,0.06),(128,0.05),(130,0.05),
    (132,0.06),(134,0.08),(136,0.1),(137,0.12),(138,0.25),(139,0.6),(140,0.78),(141,0.78),(142,0.75),(143,0.7),(144,0.65),
    (145,0.6),(146,0.5),(147,0.48),(148,0.4),(149,0.38),(150,0.35),(151,0.4),(152,0.35),(153,0.3),(154,0.38),(155,0.32),
    (156,0.25),(157,0.2),(158,0.15),(159,0.15),(160,0.2),(161,0.18),(162,0.15),(163,0.12),(164,0.1),(165,0.1),(166,0.15),
    (167,0.17),(168,0.18),(169,0.17),(170,0.18),(171,0.15),(172,0.27),(173,0.2),(174,0.3),(175,0.22),(176,0.3),(177,0.25),
    (178,0.2),(179,0.2),(180,0.22),(181,0.2),(182,0.22),(183,0.28),(184,0.2),(185,0.15),(186,0.25),(187,0.2),(188,0.15),
    (189,0.22),(190,0.1),(191,0.35),(192,0.4),(193,0.55),(194,0.6),(195,0.68),(195.5,0.45),(196,0.6),(197,0.5),(198,0.3),
    (199,0.2),(200,0.25)]
capo_aeronet = {90:[0.35,0.3],91:[0.3],92:[0.45,0.5],94:[0.25,0.3],95:[0.25,0.3],96:[0.35,0.4],97:[0.4,0.45],98:[0.5,0.45],
    99:[0.45,0.5],100:[0.6,0.65,0.7],101:[0.4,0.3],102:[0.25,0.2],103:[0.2,0.25],104:[0.22,0.18],105:[0.25],106:[0.2,0.25],
    107:[0.3,0.35],108:[0.25,0.2],110:[0.25,0.3],112:[0.3,0.25],115:[0.4,0.35],116:[0.35,0.38],117:[0.3],120:[0.1,0.12],
    121:[0.05],124:[0.25,0.2],125:[0.2],126:[0.25,0.3],127:[0.15],128:[0.1],129:[0.08],130:[0.1],131:[0.35],132:[0.35,0.25],
    133:[0.3,0.35],134:[0.3],135:[0.35],136:[0.35,0.4],137:[0.85,0.75],146:[0.45,0.5],149:[0.4,0.45],152:[0.4,0.45,0.5],
    154:[0.55],160:[0.15,0.2],161:[0.2],162:[0.25,0.3],163:[0.3,0.25],164:[0.3],166:[0.35,0.3],168:[0.35],169:[0.32],
    171:[0.3,0.35],183:[0.6,0.55,0.5],184:[0.65,0.6],190:[0.35,0.3],191:[0.8],194:[0.4,0.35],195:[0.55,0.5],196:[0.7,0.75],
    199:[0.2]}

# ---------------- Lampedusa ----------------
lamp_lisa = [(90,0.05),(91,0.08),(92,0.03),(93,0.02),(94,0.1),(95,0.38),(95.5,0.45),(96,0.15),(97,0.03),(99,0.02),(100,0.08),
    (101,0.15),(102,0.18),(103,0.1),(104,0.05),(105,0.22),(106,0.15),(107,0.05),(108,0.05),(109,0.15),(109.6,0.5),
    (110.1,0.85),(110.6,0.5),(111.5,0.75),(112.3,0.6),(113.2,0.7),(113.8,0.55),(114.3,0.7),(114.7,0.55),(115.1,2.0),
    (115.9,2.4),(116.4,1.5),(117,1.0),(118,0.6),(118.7,0.4),(119.4,0.2),(119.9,1.5),(120.3,3.6),(120.7,3.4),(121,1.0),
    (121.5,0.6),(122,1.2),(122.5,2.5),(122.9,3.6),(123.3,2.0),(123.6,0.5),(124.2,0.15),(124.7,0.05),(126,0.02),(127,0.02),
    (128.2,0.1),(128.9,0.48),(129.5,0.25),(130,0.05),(131,0.02),(133,0.01),(133.8,0.2),(134.7,0.65),(135.5,0.4),
    (136.2,0.2),(137,0.15),(138,0.25),(138.6,0.5),(139.1,0.9),(139.6,0.75),(140.2,0.55),(140.8,1.0),(141.3,1.3),
    (141.9,2.2),(142.4,2.65),(142.9,2.2),(143.3,1.8),(144,1.25),(144.8,1.25),(145.7,1.27),(146.3,1.15),(146.8,1.0),
    (147.4,0.7),(147.9,0.4),(148.6,0.2),(149.5,0.1),(150.3,0.4),(150.7,0.75),(151.2,0.9),(151.6,0.95),(152.1,1.12),
    (152.5,0.85),(152.8,0.9),(153.4,0.8),(153.9,0.6),(154.5,0.5),(155,0.4),(155.6,0.6),(156.1,1.2),(156.5,1.65),(157,1.4),
    (157.3,1.0),(157.6,2.5),(157.8,3.65),(158.2,2.6),(158.5,1.8),(158.8,2.0),(159.2,1.0),(159.6,0.6),(160.2,0.15),
    (161,0.05),(161.7,0.1),(162.2,0.3),(162.8,0.1),(163.5,0.03),(165,0.01),(170,0.01),(175,0.02),(177,0.03),(179,0.05),
    (180,0.08),(181,0.12),(182,0.2),(183,0.28),(184.3,0.5),(185,0.4),(186,0.3),(187,0.25),(188,0.3),(189,0.4),(190,0.5),
    (191,0.55),(192,0.7),(193.1,0.85),(193.8,0.6),(194.5,0.45),(195.5,0.42),(196.3,0.35),(197,0.7),(197.8,0.45),(198.5,0.6),
    (199.2,0.75),(199.6,0.55),(200,0.7)]
lamp_ers_lisa = [(90,0.02),(92,0.02),(94,0.03),(95.5,0.08),(97,0.01),(100,0.01),(105,0.02),(109,0.02),(110,0.1),(111,0.08),
    (112,0.1),(113,0.08),(114,0.1),(114.7,0.12),(115.5,0.35),(116,0.62),(116.5,0.4),(117,0.2),(118,0.1),(119,0.05),
    (119.8,0.1),(120.3,1.7),(120.7,0.8),(121.2,0.1),(122,0.05),(122.5,0.6),(122.9,3.5),(123.3,1.0),(123.8,0.1),(124.5,0.02),
    (126,0.01),(128.9,0.05),(130,0.01),(134,0.02),(134.7,0.12),(135.5,0.1),(136.5,0.05),(138,0.05),(139.1,0.2),(140,0.15),
    (140.8,0.3),(141.5,0.4),(142.4,0.7),(143.3,0.45),(144,0.35),(145,0.3),(146,0.28),(147,0.2),(148,0.05),(149.5,0.03),
    (151,0.05),(152.1,0.22),(153,0.1),(154,0.05),(155.5,0.1),(156.5,0.35),(157,0.2),(157.5,0.2),(157.8,1.0),(158.2,0.45),
    (158.8,0.3),(159.5,0.1),(160.5,0.02),(165,0.01),(175,0.01),(180,0.02),(184,0.05),(186,0.05),(188,0.07),(190,0.05),
    (192,0.08),(193.1,0.1),(195,0.06),(197,0.1),(198,0.15),(199,0.1),(200,0.12)]
lamp_ers_sgf = [(90,0.03),(92,0.02),(94,0.04),(95.5,0.1),(97,0.02),(100,0.02),(105,0.03),(109,0.03),(110,0.15),(111,0.1),
    (112,0.12),(113,0.1),(114,0.15),(114.7,0.2),(115.5,0.4),(116,0.7),(116.5,0.45),(117,0.25),(118,0.12),(119,0.06),
    (119.8,0.1),(120.3,1.1),(120.7,0.6),(121.2,0.1),(122,0.08),(122.5,0.4),(122.9,2.3),(123.3,0.8),(123.8,0.1),(124.5,0.02),
    (128.9,0.07),(130,0.01),(134,0.03),(134.7,0.18),(135.5,0.12),(136.5,0.08),(138,0.1),(139.1,0.3),(140,0.25),(140.8,0.4),
    (141.5,0.5),(142.4,0.78),(143.3,0.55),(144,0.45),(145,0.4),(146,0.38),(147,0.3),(148,0.1),(149.5,0.05),(151,0.1),
    (152.1,0.28),(153,0.15),(154,0.08),(155.5,0.12),(156.5,0.4),(157,0.3),(157.5,0.3),(157.8,1.45),(158.2,0.6),(158.8,0.4),
    (159.5,0.15),(160.5,0.03),(165,0.01),(175,0.02),(180,0.04),(184,0.08),(186,0.1),(188,0.12),(190,0.1),(192,0.15),
    (193.1,0.2),(195,0.12),(197,0.15),(198,0.2),(199,0.15),(200,0.18)]
lamp_aeronet = {90:[0.22,0.18],91:[0.2,0.15],92:[0.2,0.25],93:[0.15,0.2],94:[0.18,0.12],95:[0.6,0.55],96:[0.2,0.15],
    97:[0.15,0.2],98:[0.2,0.15],99:[0.18,0.12],100:[0.15,0.1],101:[0.12,0.15],102:[0.2,0.25],103:[0.3,0.25],104:[0.25,0.2],
    105:[0.45,0.4],106:[0.3,0.25],107:[0.2,0.15],108:[0.25,0.3],109:[0.3,0.35],110:[0.4,0.5],113:[0.6,0.55],114:[0.5,0.45],
    115:[1.6,1.5,1.4,1.2,1.1,1.0],116:[1.45,1.35,1.3],117:[0.6,0.5],139:[0.2,0.15],140:[0.25,0.2],141:[0.3],
    146:[0.35,0.45],147:[0.4,0.35],148:[0.3,0.25],149:[0.25,0.2],150:[0.35,0.4],151:[0.3,0.25],153:[0.2,0.25],
    154:[0.3,0.35],156:[0.5,0.45],157:[0.85,0.9],158:[0.75,0.6,0.55],159:[0.4],161:[0.15,0.1],162:[0.12,0.08],
    163:[0.1,0.05],167:[0.25,0.2],168:[0.15,0.2],169:[0.15,0.1],170:[0.2,0.15],171:[0.12,0.1],172:[0.1,0.15],
    173:[0.1,0.12],174:[0.2,0.15],175:[0.25,0.2],176:[0.22,0.28],177:[0.3,0.25],178:[0.25,0.2],179:[0.2,0.15],
    180:[0.18,0.22],181:[0.3,0.35],182:[0.25,0.2],183:[0.15,0.2],184:[0.25,0.3],185:[0.3,0.25],186:[0.2,0.25],
    187:[0.25,0.3],188:[0.3,0.32],189:[0.28,0.25],190:[0.3,0.35],191:[0.32,0.35],192:[0.35,0.4],193:[0.3,0.35],
    194:[0.2,0.22],195:[0.35,0.4],196:[0.3,0.35],197:[0.38,0.35],198:[0.4,0.35],199:[0.45,0.5],200:[0.55,0.5]}

MODELS = [
    (bani_lisa, bani_ers_lisa, bani_ers_sgf),
    (zind_lisa, zind_ers_lisa, zind_ers_sgf),
    (cinz_lisa, cinz_ers_lisa, cinz_ers_sgf),
    (dak_lisa, dak_ers_lisa, dak_ers_sgf),
    (capo_lisa, capo_ers_lisa, capo_ers_sgf),
    (lamp_lisa, lamp_ers_lisa, lamp_ers_sgf),
]
OBS = [bani_aeronet, zind_aeronet, cinz_aeronet, dak_aeronet, capo_aeronet, lamp_aeronet]


def unpack(pairs):
    a = np.array(pairs, dtype=float)
    return a[:, 0], a[:, 1]


def obs_points(daily):
    # measurements of a day are spread over daylight hours
    xs, ys = [], []
    for day, vals in daily.items():
        offs = np.linspace(0.3, 0.7, len(vals)) if len(vals) > 1 else [0.5]
        for o, v in zip(offs, vals):
            xs.append(day + o)
            ys.append(v)
    return np.array(xs), np.array(ys)


fig = plt.figure(figsize=(12.96, 7.68), dpi=100)
lefts = [0.0563, 0.392, 0.7269]
bottoms = [0.5898, 0.0794]
W, H = 0.2562, 0.3655

for i, name in enumerate(STATIONS):
    ax = fig.add_axes([lefts[i % 3], bottoms[i // 3], W, H])
    ox, oy = obs_points(OBS[i])
    sns.scatterplot(x=ox, y=oy, ax=ax, marker='s', s=6, color='black', linewidth=0,
                    label='AERONET', zorder=2)
    for pairs, lab, col in zip(MODELS[i], SERIES, COLORS):
        x, y = unpack(pairs)
        sns.lineplot(x=x, y=y, ax=ax, color=col, linewidth=0.9, label=lab,
                     estimator=None, sort=False, zorder=3)
    ax.set_xlim(90, 200)
    ax.set_ylim(0, 4)
    ax.xaxis.set_major_locator(MultipleLocator(10))
    ax.xaxis.set_minor_locator(MultipleLocator(5))
    ax.yaxis.set_major_locator(MultipleLocator(0.5))
    ax.yaxis.set_minor_locator(MultipleLocator(0.25))
    ax.yaxis.set_major_formatter(FormatStrFormatter('%.1f'))
    ax.tick_params(which='both', direction='in', top=True, right=True,
                   length=6, width=0.8, labelsize=13, pad=4.5, colors='black')
    for sp in ax.spines.values():
        sp.set_linewidth(1.0)
        sp.set_color('black')
    ax.set_title(name, fontsize=17, pad=9, color='black')
    ax.set_xlabel(XLABEL, fontsize=15, labelpad=7)
    ax.set_ylabel(YLABEL, fontsize=15, labelpad=9)
    handles, labels = ax.get_legend_handles_labels()
    leg = ax.legend(handles, labels, loc='upper left', bbox_to_anchor=(0.075, 0.995),
                    frameon=True, fancybox=False, edgecolor='#444444', framealpha=1,
                    fontsize=10, handlelength=1.75, handletextpad=0.5,
                    labelspacing=0.12, borderpad=0.3, borderaxespad=0,
                    scatterpoints=1, markerscale=0.8, labelcolor='black')
    leg.get_frame().set_linewidth(1.0)
    leg.set_zorder(10)

fig.savefig("out.png", dpi=100)
